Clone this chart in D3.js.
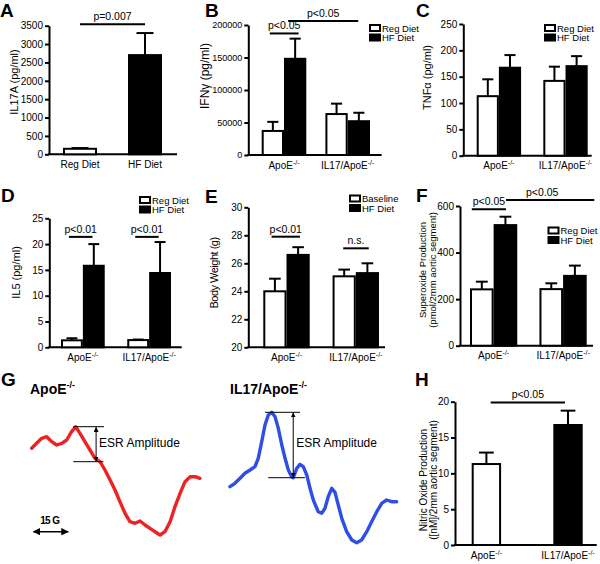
<!DOCTYPE html>
<html>
<head>
<meta charset="utf-8">
<script src="https://cdn.jsdelivr.net/npm/d3@7"></script>
<style>
  body { margin: 0; background: #fff; }
  svg { font-family: Arial, "Liberation Sans", sans-serif; }
</style>
</head>
<body>
<script>
// ---- data ----
var genotypes = ["ApoE-/-", "IL17/ApoE-/-"];
var diets = ["Reg Diet", "HF Diet"];

// A: IL17A (pg/ml)
var aMean = [150, 2700];
var aSem = [20, 600];

// B: IFNγ (pg/ml)
var bReg = [37000, 63000];
var bRegSem = [14000, 16000];
var bHF = [148000, 52000];
var bHFSem = [31000, 13000];

// C: TNFα (pg/ml)
var cReg = [113, 142];
var cRegSem = [32, 27];
var cHF = [167, 170];
var cHFSem = [24, 19];

// D: IL5 (pg/ml)
var dReg = [1.35, 1.4];
var dRegSem = [0.4, 0.1];
var dHF = [15.8, 14.4];
var dHFSem = [4.2, 6.0];

// E: body weight (g)
var eBase = [24.0, 25.07];
var eBaseSem = [0.9, 0.48];
var eHF = [26.6, 25.3];
var eHFSem = [0.55, 0.7];

// F: superoxide (pmol/2mm aortic segment)
var fReg = [242, 243];
var fRegSem = [33, 25];
var fHF = [518, 300];
var fHFSem = [36, 44];

// H: nitric oxide ([nM]/2mm aortic segment)
var hMean = [11.3, 16.75];
var hSem = [1.6, 2.0];

// G: ESR spectra, field (G) vs signal (a.u.)
var redField = [0, 2.1, 4.3, 6.4, 8.6, 10.7, 12.9, 15.0, 17.1, 18.9, 20.7, 22.8, 25.0, 27.1, 29.3, 31.4, 33.6, 35.7,
  37.8, 40.0, 42.1, 44.3, 46.4, 48.6, 50.7, 52.8, 55.0, 57.1, 59.3, 61.4, 63.6, 65.7, 67.9, 70.0, 72.1];
var redSignal = [31.7, 36.7, 41.7, 43.3, 38.3, 35, 36.7, 40, 48.3, 53.3, 46.7, 38.3, 30, 21.7, 18.3, 10, 0, -10,
  -21.7, -33.3, -41.7, -43.3, -41, -45, -48.3, -51.7, -55, -51.7, -41.7, -26.7, -13.3, -1.7, 3.3, 3.3, 1.7];
var blueField = [0, 2.1, 4.3, 6.4, 8.6, 10.7, 12.1, 13.6, 15.0, 16.4, 17.9, 19.3, 20.7, 22.2, 23.6, 25.0, 26.4, 27.1,
  28.6, 30.0, 31.4, 32.9, 34.3, 35.7, 37.8, 39.3, 40.7, 42.1, 43.6, 45.0, 46.4, 47.9, 50.0, 52.2, 54.3, 56.4, 58.6,
  60.7, 62.9, 65.0, 67.1, 69.3, 71.4];
var blueSignal = [-6.7, -3.3, 1.7, 6.7, 10, 13.3, 21.7, 38.3, 55, 65, 67.7, 63.3, 51.7, 35, 21.7, 10, 3.3, 2.3,
  11.7, 15.7, 13.3, 5, -8.3, -20, -31.7, -33.3, -28.3, -16.7, -8.3, -12.3, -25, -38.3, -51.7, -60, -62.7, -60, -51.7,
  -41.7, -31.7, -23.3, -20, -21.7, -21.7];

var svg = d3.select("body").append("svg")
  .attr("width", 600)
  .attr("height", 564);

var defs = svg.append("defs");
defs.append("marker")
  .attr("id", "ah")
  .attr("viewBox", "0 0 8 8")
  .attr("refX", 7.5)
  .attr("refY", 4)
  .attr("markerWidth", 5)
  .attr("markerHeight", 5)
  .attr("orient", "auto-start-reverse")
  .append("path")
  .attr("d", "M0,0L8,4L0,8z");

function addLabel(sel, label, supSize, rise) {
  var parts = label.split("-/-");
  sel.append("tspan").text(parts[0]);
  if (label.indexOf("-/-") >= 0) {
    sel.append("tspan").attr("font-size", supSize).attr("dy", -rise).text("-/-");
  }
}

function barPanel(p) {
  var g = svg.append("g");
  var y = d3.scaleLinear().domain(p.domain).range([p.bottom, p.top]);
  var x = d3.scaleBand().domain(p.groups).range(p.band).paddingInner(p.pad);
  var xi = d3.scaleBand().domain(d3.range(p.series.length)).range([0, x.bandwidth()]);
  var bw = xi.bandwidth();
  var base = y(p.domain[0]);

  function center(gi, si) {
    return x(p.groups[gi]) + xi(si) + bw / 2;
  }

  var ax = g.append("g")
    .attr("transform", `translate(${p.x0},0)`)
    .call(d3.axisLeft(y).tickValues(p.ticks).tickSize(4).tickSizeOuter(0).tickPadding(2)
      .tickFormat(d3.format("d")));
  ax.attr("font-family", null).attr("font-size", p.tickFont || 10);
  ax.select(".domain").attr("stroke-width", 2);
  ax.selectAll(".tick line").attr("stroke-width", 2);

  g.append("line")
    .attr("x1", p.x0 - 1).attr("x2", p.xEnd)
    .attr("y1", base).attr("y2", base)
    .attr("stroke", "#000").attr("stroke-width", 2);

  p.series.forEach(function(s, si) {
    var rows = s.values.map(function(v, gi) { return { v: v, e: s.sem[gi], gi: gi }; });
    var eb = g.selectAll(null).data(rows).enter().append("g");
    eb.append("line")
      .attr("x1", d => center(d.gi, si)).attr("x2", d => center(d.gi, si))
      .attr("y1", d => y(d.v)).attr("y2", d => y(d.v + d.e))
      .attr("stroke", "#000").attr("stroke-width", 2);
    eb.append("line")
      .attr("x1", d => center(d.gi, si) - bw / 4).attr("x2", d => center(d.gi, si) + bw / 4)
      .attr("y1", d => y(d.v + d.e)).attr("y2", d => y(d.v + d.e))
      .attr("stroke", "#000").attr("stroke-width", 2);
    g.selectAll(null).data(rows).enter().append("rect")
      .attr("x", d => x(p.groups[d.gi]) + xi(si) + 1)
      .attr("width", bw - 2)
      .attr("y", d => y(d.v))
      .attr("height", d => base - y(d.v))
      .attr("fill", d => s.fill[d.gi])
      .attr("stroke", "#000").attr("stroke-width", 2);
  });

  g.selectAll(null).data(p.groups).enter().append("text")
    .attr("x", d => x(d) + x.bandwidth() / 2)
    .attr("y", base + 13.5)
    .attr("text-anchor", "middle")
    .attr("font-size", 10)
    .each(function(d) { addLabel(d3.select(this), d, 7, 4); });

  p.ytitle.lines.forEach(function(t, i) {
    g.append("text")
      .attr("transform", `translate(${p.ytitle.x[i]},${p.ytitle.cy}) rotate(-90)`)
      .attr("text-anchor", "middle")
      .attr("font-size", p.ytitle.size)
      .attr("letter-spacing", p.ytitle.ls || 0)
      .text(t);
  });

  (p.brackets || []).forEach(function(b) {
    var xa = center(b.from[0], b.from[1]) + (b.dx1 || 0);
    var xb = center(b.to[0], b.to[1]) + (b.dx2 || 0);
    var yy = y(b.at);
    g.append("line")
      .attr("x1", xa).attr("x2", xb).attr("y1", yy).attr("y2", yy)
      .attr("stroke", "#000").attr("stroke-width", 2);
    g.append("text")
      .attr("x", (xa + xb) / 2 + (b.tdx || 0))
      .attr("y", yy - 4)
      .attr("text-anchor", "middle")
      .attr("font-size", 10.5)
      .text(b.label);
  });

  if (p.legend) {
    var lg = g.append("g").attr("transform", `translate(${p.legend.x},${p.legend.y})`);
    p.series.forEach(function(s, i) {
      lg.append("rect")
        .attr("x", 1).attr("y", i * 9.5 + 1)
        .attr("width", 10).attr("height", 6)
        .attr("fill", s.fill[0]).attr("stroke", "#000").attr("stroke-width", 2);
      lg.append("text")
        .attr("x", 13).attr("y", i * 9.5 + 7.5)
        .attr("font-size", 9.5)
        .text(s.name);
    });
  }
}

barPanel({
  x0: 49, xEnd: 177, top: 25.7, bottom: 154.3,
  domain: [0, 3500], ticks: d3.range(0, 3501, 500),
  groups: diets, band: [63, 162], pad: 0.477,
  series: [{ name: "", values: aMean, sem: aSem, fill: ["#fff", "#000"] }],
  ytitle: { lines: ["IL17A (pg/ml)"], x: [18], cy: 82, size: 11 },
  brackets: [{ from: [0, 0], to: [1, 0], at: 3540, label: "p=0.007" }]
});

barPanel({
  x0: 248.3, xEnd: 381.7, top: 25, bottom: 155, tickFont: 9,
  domain: [0, 200000], ticks: d3.range(0, 200001, 50000),
  groups: genotypes, band: [261.7, 370], pad: 0.30,
  series: [
    { name: "Reg Diet", values: bReg, sem: bRegSem, fill: ["#fff", "#fff"] },
    { name: "HF Diet", values: bHF, sem: bHFSem, fill: ["#000", "#000"] }
  ],
  legend: { x: 369, y: 24 },
  ytitle: { lines: ["IFNγ (pg/ml)"], x: [209], cy: 76, size: 12 },
  brackets: [
    { from: [0, 0], to: [0, 1], dx1: -3, dx2: 3.4, at: 187000, label: "p<0.05" },
    { from: [0, 1], to: [1, 1], dx1: -7, dx2: -0.6, at: 206000, label: "p<0.05" }
  ]
});

barPanel({
  x0: 463.3, xEnd: 591.7, top: 24, bottom: 155.7,
  domain: [0, 250], ticks: d3.range(0, 251, 50),
  groups: genotypes, band: [476.7, 587.7], pad: 0.334,
  series: [
    { name: "Reg Diet", values: cReg, sem: cRegSem, fill: ["#fff", "#fff"] },
    { name: "HF Diet", values: cHF, sem: cHFSem, fill: ["#000", "#000"] }
  ],
  legend: { x: 544, y: 24 },
  ytitle: { lines: ["TNFα (pg/ml)"], x: [431], cy: 77.5, size: 11 }
});

barPanel({
  x0: 49.3, xEnd: 181.7, top: 218.3, bottom: 347.3,
  domain: [0, 25], ticks: d3.range(0, 26, 5),
  groups: genotypes, band: [61, 171], pad: 0.34,
  series: [
    { name: "Reg Diet", values: dReg, sem: dRegSem, fill: ["#fff", "#fff"] },
    { name: "HF Diet", values: dHF, sem: dHFSem, fill: ["#000", "#000"] }
  ],
  legend: { x: 139, y: 196 },
  ytitle: { lines: ["IL5 (pg/ml)"], x: [20], cy: 272.5, size: 11 },
  brackets: [
    { from: [0, 0], to: [0, 1], dx1: -3, dx2: -1.3, at: 21.4, label: "p<0.01" },
    { from: [1, 0], to: [1, 1], dx1: -3, dx2: -1.4, at: 21.4, label: "p<0.01" }
  ]
});

barPanel({
  x0: 248.3, xEnd: 385, top: 207.3, bottom: 347.3,
  domain: [20, 30], ticks: d3.range(20, 31, 2),
  groups: genotypes, band: [263.3, 379], pad: 0.33,
  series: [
    { name: "Baseline", values: eBase, sem: eBaseSem, fill: ["#fff", "#fff"] },
    { name: "HF Diet", values: eHF, sem: eHFSem, fill: ["#000", "#000"] }
  ],
  legend: { x: 349, y: 194.5 },
  ytitle: { lines: ["Body Weight (g)"], x: [218], cy: 273, size: 11, ls: -0.5 },
  brackets: [
    { from: [0, 0], to: [0, 1], dx1: -3.3, dx2: 1.8, at: 27.9, label: "p<0.01" },
    { from: [1, 0], to: [1, 1], dx1: -1, dx2: 1.4, at: 27.07, label: "n.s." }
  ]
});

barPanel({
  x0: 460, xEnd: 593, top: 206, bottom: 345.7,
  domain: [0, 600], ticks: d3.range(0, 601, 200),
  groups: genotypes, band: [470, 586.7], pad: 0.32,
  series: [
    { name: "Reg Diet", values: fReg, sem: fRegSem, fill: ["#fff", "#fff"] },
    { name: "HF Diet", values: fHF, sem: fHFSem, fill: ["#000", "#000"] }
  ],
  legend: { x: 547.5, y: 226.5 },
  ytitle: { lines: ["Superoxide Production", "(pmol/2mm aortic segment)"], x: [426, 435.5], cy: 270, size: 9.5 },
  brackets: [
    { from: [0, 0], to: [0, 1], dx1: -10, dx2: 0.6, at: 586, label: "p<0.05" },
    { from: [0, 1], to: [1, 1], dx1: 0.6, dx2: 19.4, at: 626, label: "p<0.05", tdx: -8 }
  ]
});

barPanel({
  x0: 455, xEnd: 596.7, top: 401.7, bottom: 545,
  domain: [0, 20], ticks: d3.range(0, 21, 5),
  groups: genotypes, band: [471.7, 582.7], pad: 0.64,
  series: [{ name: "", values: hMean, sem: hSem, fill: ["#fff", "#000"] }],
  ytitle: { lines: ["Nitric Oxide Production", "([nM]/2mm aortic segment)"], x: [427, 437], cy: 480, size: 10 },
  brackets: [{ from: [0, 0], to: [1, 0], dx1: 4.3, dx2: -3, at: 19.9, label: "p<0.05" }]
});

// ---- G: ESR traces ----
var gx = d3.scaleLinear().domain([0, 15]).range([0, 35]);   // 15 G bar
var gy = d3.scaleLinear().domain([-70, 70]).range([550, 410]);

var traces = [
  { field: redField, signal: redSignal, x0: 31.7, color: "#ee2222", title: "ApoE-/-", tx: 30,
    bottomIdx: 14, topFrom: 17.8, topTo: 31, botFrom: 17.8, botTo: 30.7, arrowAt: 27.6 },
  { field: blueField, signal: blueSignal, x0: 230, color: "#2f4ee6", title: "IL17/ApoE-/-", tx: 230,
    bottomIdx: 17, topFrom: 15, topTo: 30, botFrom: 16.4, botTo: 32.1, arrowAt: 27.1 }
];

traces.forEach(function(t) {
  var pts = t.field.map(function(f, i) { return [f, t.signal[i]]; });
  var line = d3.line()
    .x(d => t.x0 + gx(d[0]))
    .y(d => gy(d[1]));
  svg.append("path")
    .attr("d", line(pts))
    .attr("fill", "none")
    .attr("stroke", t.color)
    .attr("stroke-width", 3.4)
    .attr("stroke-linejoin", "round")
    .attr("stroke-linecap", "round");

  var yTop = gy(d3.max(t.signal));
  var yBot = gy(t.signal[t.bottomIdx]);
  svg.append("line")
    .attr("x1", t.x0 + gx(t.topFrom)).attr("x2", t.x0 + gx(t.topTo))
    .attr("y1", yTop).attr("y2", yTop)
    .attr("stroke", "#000").attr("stroke-width", 1);
  svg.append("line")
    .attr("x1", t.x0 + gx(t.botFrom)).attr("x2", t.x0 + gx(t.botTo))
    .attr("y1", yBot).attr("y2", yBot)
    .attr("stroke", "#000").attr("stroke-width", 1);
  svg.append("line")
    .attr("x1", t.x0 + gx(t.arrowAt)).attr("x2", t.x0 + gx(t.arrowAt))
    .attr("y1", yTop + 0.5).attr("y2", yBot - 0.5)
    .attr("stroke", "#000").attr("stroke-width", 1)
    .attr("marker-start", "url(#ah)")
    .attr("marker-end", "url(#ah)");
  svg.append("text")
    .attr("x", t.x0 + gx(t.arrowAt) + 3)
    .attr("y", 446.7)
    .attr("font-size", 12)
    .text("ESR Amplitude");

  var title = svg.append("text")
    .attr("x", t.tx)
    .attr("y", 394)
    .attr("font-size", 14)
    .attr("font-weight", "bold");
  addLabel(title, t.title, 9, 6);
});

// 15 G scale bar
svg.append("line")
  .attr("x1", 33.3).attr("x2", 33.3 + gx(15))
  .attr("y1", 531.7).attr("y2", 531.7)
  .attr("stroke", "#000").attr("stroke-width", 1.5)
  .attr("marker-start", "url(#ah)")
  .attr("marker-end", "url(#ah)");
svg.append("text")
  .attr("x", 33.3 + gx(15) / 2 - 1)
  .attr("y", 523.5)
  .attr("text-anchor", "middle")
  .attr("font-size", 10)
  .attr("font-weight", "bold")
  .attr("letter-spacing", -0.6)
  .text("15 G");

// panel letters
var letters = ["A", "B", "C", "D", "E", "F", "G", "H"];
var letterPos = [[0, 16.5], [205, 17], [416, 17], [1, 202], [205, 203], [416, 202], [1, 386], [415, 386]];
svg.selectAll(".letter")
  .data(letters)
  .enter()
  .append("text")
  .attr("class", "letter")
  .attr("x", (d, i) => letterPos[i][0])
  .attr("y", (d, i) => letterPos[i][1])
  .attr("font-size", 19)
  .attr("font-weight", "bold")
  .text(d => d);
</script>
</body>
</html>
